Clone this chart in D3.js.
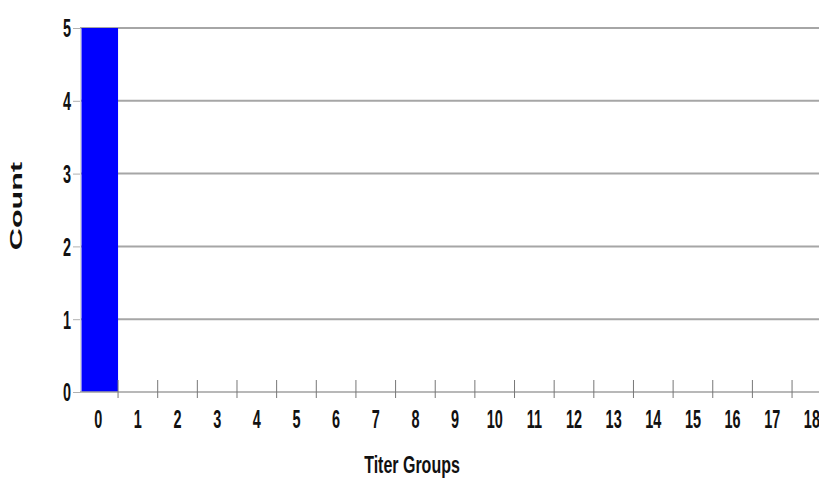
<!DOCTYPE html>
<html>
<head>
<meta charset="utf-8">
<script src="https://cdn.jsdelivr.net/npm/d3@7"></script>
<style>
  body { margin: 0; background: #fff; }
  svg { display: block; }
</style>
</head>
<body>
<svg id="canvas" width="819" height="482"></svg>
<script>
// chart data
const groups = ["0", "1", "2", "3", "4", "5", "6", "7", "8", "9", "10", "11", "12", "13", "14", "15", "16", "17", "18"];
const counts = [5, 0, 0, 0, 0, 0, 0, 0, 0, 0, 0, 0, 0, 0, 0, 0, 0, 0, 0];
const yTicks = [0, 1, 2, 3, 4, 5];

const svg = d3.select("#canvas");
const width = 819;
const plotLeft = 78.4, plotRight = 831.7, plotTop = 28, plotBottom = 392;
const axisX = 80;
const font = "'Liberation Sans', Arial, sans-serif";
// tick labels look condensed and tall
const labelScale = "scale(0.85,1.55)";

const x = d3.scaleBand().domain(groups).range([plotLeft, plotRight]).padding(0);
const y = d3.scaleLinear().domain([0, 5]).range([plotBottom, plotTop]);

// gridlines
svg.append("g")
    .selectAll("line")
    .data(yTicks.filter(d => d > 0))
    .join("line")
    .attr("x1", axisX)
    .attr("x2", width)
    .attr("y1", d => y(d))
    .attr("y2", d => y(d))
    .attr("stroke", "#a6a6a6")
    .attr("stroke-width", 2);

// y axis
const gy = svg.append("g")
    .attr("transform", `translate(${axisX},0)`)
    .call(d3.axisLeft(y).tickValues(yTicks).tickFormat(d3.format("d")).tickSize(7).tickSizeOuter(0));
gy.select(".domain").attr("stroke", "#d8d8d8");
gy.selectAll(".tick line").attr("stroke", "#b0b0b0");
gy.selectAll(".tick text")
    .attr("x", -9 / 0.85)
    .attr("y", 0)
    .attr("dy", "0.34em")
    .attr("transform", labelScale)
    .style("font-family", font)
    .style("font-weight", "bold")
    .style("font-size", "17px")
    .attr("fill", "#111");

// bars
svg.append("g")
    .selectAll("rect")
    .data(groups.map((g, i) => ({ g, v: counts[i] })))
    .join("rect")
    .attr("x", d => Math.max(x(d.g), axisX + 1.5))
    .attr("width", d => x(d.g) + x.bandwidth() - Math.max(x(d.g), axisX + 1.5))
    .attr("y", d => y(d.v))
    .attr("height", d => y(0) - y(d.v))
    .attr("fill", "#0000ff");

// x axis baseline
svg.append("line")
    .attr("x1", axisX)
    .attr("x2", width)
    .attr("y1", plotBottom)
    .attr("y2", plotBottom)
    .attr("stroke", "#a0a0a0")
    .attr("stroke-width", 1.5);

// x ticks at band boundaries
svg.append("g")
    .selectAll("line")
    .data(groups)
    .join("line")
    .attr("x1", d => x(d) + x.bandwidth())
    .attr("x2", d => x(d) + x.bandwidth())
    .attr("y1", plotBottom - 12)
    .attr("y2", plotBottom + 6)
    .attr("stroke", "#777")
    .attr("stroke-width", 1);

// x labels
const gx = svg.append("g")
    .attr("transform", `translate(0,${plotBottom})`)
    .call(d3.axisBottom(x).tickSize(0));
gx.select(".domain").remove();
gx.selectAll(".tick text")
    .attr("y", 0)
    .attr("dy", 0)
    .attr("transform", `translate(0,36) ${labelScale}`)
    .style("font-family", font)
    .style("font-weight", "bold")
    .style("font-size", "17px")
    .attr("fill", "#111");

// axis titles
svg.append("text")
    .attr("transform", "translate(412,473) scale(0.8,1.2)")
    .attr("text-anchor", "middle")
    .style("font-family", font)
    .style("font-weight", "bold")
    .style("font-size", "20px")
    .attr("fill", "#111")
    .text("Titer Groups");

svg.append("text")
    .attr("transform", "translate(22,206) rotate(-90) scale(1.8,1)")
    .attr("text-anchor", "middle")
    .style("font-family", font)
    .style("font-weight", "bold")
    .style("font-size", "17px")
    .attr("fill", "#111")
    .text("Count");
</script>
</body>
</html>
